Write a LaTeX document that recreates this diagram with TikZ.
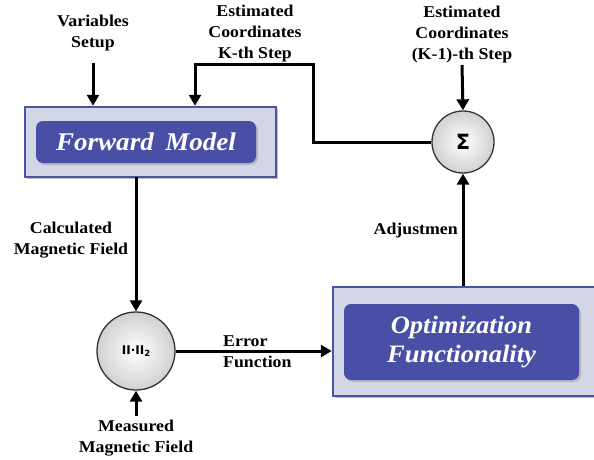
\documentclass[tikz,border=0pt]{standalone}
\usepackage{fontspec}
\setmainfont{Liberation Serif}[FakeStretch=1.08]
\newfontfamily\boxfont{Liberation Serif}[FakeStretch=1.06]
\newfontfamily\symfont{DejaVu Sans}
\usetikzlibrary{arrows.meta,shadows}
\definecolor{outerfill}{HTML}{D3D6E4}
\definecolor{outerdraw}{HTML}{4C52A8}
\definecolor{innerfill}{HTML}{4A4FA6}
\begin{document}
\begin{tikzpicture}[x=1pt,y=-1pt,
  lbl/.style={font=\bfseries\fontsize{16.5}{21}\selectfont,align=center,inner sep=0pt},
  outerbox/.style={draw=outerdraw,line width=2.5pt,fill=outerfill,inner sep=0pt,drop shadow={shadow xshift=1.5pt,shadow yshift=-1.5pt,opacity=0.5}},
  innerbox/.style={fill=innerfill,rounded corners=7pt,inner sep=0pt,drop shadow={shadow xshift=2pt,shadow yshift=-2pt,opacity=0.35},text=white,align=center},
  sumc/.style={circle,draw=black!80,line width=1.3pt,inner color=white,outer color=black!18,inner sep=0pt},
  conn/.style={line width=3pt,-{Triangle[length=11pt,width=12pt]}},
  plain/.style={line width=3pt}]
\useasboundingbox (0,0) rectangle (594,460);
% Forward model
\node[outerbox,minimum width=251pt,minimum height=70pt] (fmo) at (150.5,142) {};
\node[innerbox,minimum width=220pt,minimum height=42pt,font=\boxfont\bfseries\itshape\fontsize{25.5}{30}\selectfont] (fm) at (146,142) {Forward\hspace{0.45em}Model};
% Optimization
\node[outerbox,minimum width=262pt,minimum height=109pt] (opo) at (464,341.5) {};
\node[innerbox,minimum width=235pt,minimum height=76pt,font=\boxfont\bfseries\itshape\fontsize{25}{29}\selectfont] (op) at (461.5,342) {Optimization\\Functionality};
% circles
\node[sumc,minimum size=62pt,font=\symfont\bfseries\fontsize{21}{21}\selectfont] (sum) at (463,142) {Σ};
\node[sumc,minimum size=78pt,font=\symfont\bfseries\fontsize{12}{12}\selectfont] (nrm) at (136,351) {II·II\raisebox{-2pt}{\fontsize{8.5}{8.5}\selectfont 2}};
% labels
\node[lbl] (vs) at (93,33) {Variables\\Setup};
\node[lbl] (ek) at (255,34) {Estimated\\Coordinates\\K-th Step};
\node[lbl] (ek1) at (462,35) {Estimated\\Coordinates\\(K-1)-th Step};
\node[lbl] (cm) at (71,240) {Calculated\\Magnetic Field};
\node[lbl] (mm) at (136,438) {Measured\\Magnetic Field};
\node[lbl,align=left,anchor=west] (ef) at (223,352) {Error\\Function};
\node[lbl,anchor=east] (adj) at (458,231) {Adjustmen};
% coordinates
\coordinate (vsa) at (93,63);
\coordinate (ek1a) at (462,65);
\coordinate (mma) at (136,416);
\coordinate (k1) at (313,65);
\coordinate (k2) at (313,142);
\coordinate (k3) at (195,65);
\coordinate (fma) at (136,177);
% connectors
\draw[conn] (vsa) -- (vsa |- fmo.north);
\draw[conn] (ek1a) -- (sum.north);
\draw[conn] (sum.west) -- (k2) -- (k1) -- (k3) -- (k3 |- fmo.north);
\draw[conn] (fma) -- (nrm.north);
\draw[conn] (mma) -- (nrm.south);
\draw[conn] (nrm.east) -- (opo.west |- nrm.east);
\draw[conn] (sum.south |- opo.north) -- (sum.south);
\end{tikzpicture}
\end{document}
